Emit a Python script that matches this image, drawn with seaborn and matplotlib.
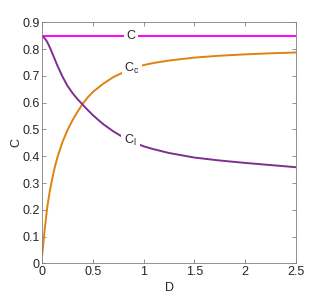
import numpy as np
import pandas as pd
import seaborn as sns
import matplotlib.pyplot as plt

# values
D = [0, 0.025, 0.05, 0.075, 0.1, 0.125, 0.15, 0.2, 0.25, 0.3, 0.35, 0.4,
     0.45, 0.5, 0.6, 0.7, 0.8, 0.9, 1.0, 1.1, 1.25, 1.5, 1.75, 2.0, 2.25, 2.5]
C_total = [0.848] * len(D)
C_c = [0.031, 0.128, 0.21, 0.27, 0.318, 0.36, 0.396, 0.453, 0.498, 0.535,
       0.567, 0.596, 0.62, 0.64, 0.67, 0.695, 0.713, 0.728, 0.740, 0.748,
       0.757, 0.768, 0.775, 0.780, 0.784, 0.787]
C_l = [0.848, 0.84, 0.826, 0.806, 0.784, 0.761, 0.738, 0.697, 0.662, 0.635,
       0.612, 0.592, 0.572, 0.553, 0.52, 0.493, 0.47, 0.452, 0.437, 0.426,
       0.412, 0.395, 0.384, 0.375, 0.367, 0.359]

sns.set_style('ticks')
plt.rcParams['font.family'] = ['Liberation Sans', 'DejaVu Sans']
plt.rcParams['mathtext.default'] = 'regular'
plt.rcParams['font.size'] = 9

fig = plt.figure(figsize=(3.27, 2.96), dpi=100)
ax = fig.add_axes([0.129, 0.110, 0.776, 0.815])

df = pd.DataFrame({'D': D, 'C': C_total, 'Cc': C_c, 'Cl': C_l})
sns.lineplot(data=df, x='D', y='C', color='#FF00FF', lw=1.4, ax=ax, sort=False, estimator=None)
sns.lineplot(data=df, x='D', y='Cc', color='#E0820F', lw=1.4, ax=ax, sort=False, estimator=None)
sns.lineplot(data=df, x='D', y='Cl', color='#7E2F8E', lw=1.4, ax=ax, sort=False, estimator=None)

box = dict(facecolor='white', edgecolor='none', pad=2)
ax.text(0.875, 0.848, 'C', ha='center', va='center', color='#262626', fontsize=9, bbox=box)
ax.text(0.885, 0.726, 'C$_c$', ha='center', va='center', color='#262626', fontsize=9, bbox=box)
ax.text(0.87, 0.46, 'C$_l$', ha='center', va='center', color='#262626', fontsize=9, bbox=box)

ax.set_xlim(0, 2.5)
ax.set_ylim(0, 0.9)
ax.set_xticks([0, 0.5, 1, 1.5, 2, 2.5])
ax.set_xticklabels(['0', '0.5', '1', '1.5', '2', '2.5'])
ax.set_yticks(np.arange(0, 0.91, 0.1))
ax.set_yticklabels(['0', '0.1', '0.2', '0.3', '0.4', '0.5', '0.6', '0.7', '0.8', '0.9'])
ax.set_xlabel('D', color='#262626', labelpad=3)
ax.set_ylabel('C', color='#262626', labelpad=0)
ax.tick_params(direction='in', length=3, width=0.6, colors='#808080',
               labelcolor='#262626', top=True, right=True, pad=2)
for s in ax.spines.values():
    s.set_color('#808080')
    s.set_linewidth(0.6)

fig.savefig('out.png', dpi=100)
